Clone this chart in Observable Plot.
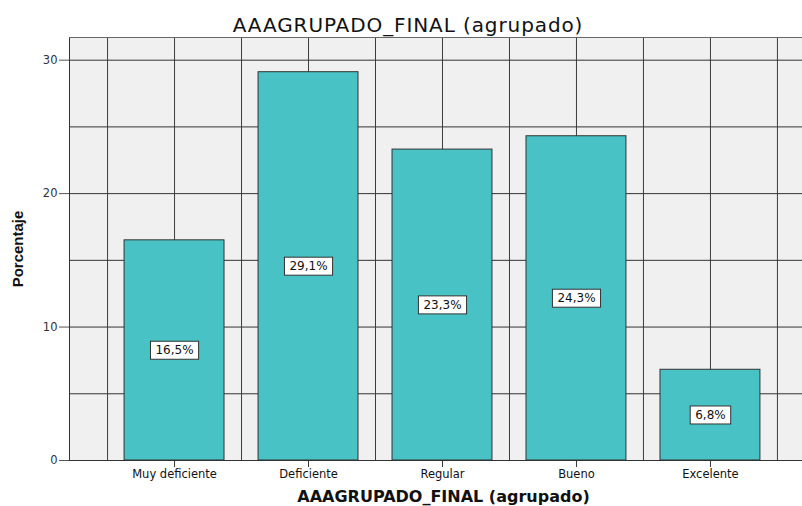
<!DOCTYPE html>
<html><head><meta charset="utf-8">
<script src="https://cdn.jsdelivr.net/npm/d3@7"></script>
<script src="https://cdn.jsdelivr.net/npm/@observablehq/plot@0.6"></script>
<style>
body{margin:0;background:#fff;}
.ctitle text{letter-spacing:0.9px;}
</style>
</head><body>
<div id="chart"></div>
<script>
const categories = ["Muy deficiente", "Deficiente", "Regular", "Bueno", "Excelente"];
const percentages = [16.5, 29.1, 23.3, 24.3, 6.8];
const yTicks = [0, 10, 20, 30];
const yGrid = [0, 5, 10, 15, 20, 25, 30];
const chartTitle = "AAAGRUPADO_FINAL (agrupado)";
const xTitle = "AAAGRUPADO_FINAL (agrupado)";
const yTitle = "Porcentaje";

const data = categories.map((c, i) => ({
  i, category: c, value: percentages[i],
  label: percentages[i].toFixed(1).replace(".", ",") + "%"
}));
const xIdx = categories.map((_, i) => i);
const xGrid = d3.range(-0.5, categories.length, 0.5);
const xDomain = [-0.784, 4.687];
const yMax = 31.7;
const half = 0.373;

const svg = Plot.plot({
  width: 802, height: 506,
  marginLeft: 69, marginRight: 0, marginTop: 37, marginBottom: 46,
  style: {fontFamily: "'DejaVu Sans', sans-serif", fontSize: "11.5px", color: "#222", background: "#fff", overflow: "visible"},
  x: {type: "linear", domain: xDomain},
  y: {domain: [0, yMax]},
  marks: [
    Plot.frame({fill: "#f0f0f0", stroke: "none"}),
    Plot.ruleY(yGrid, {stroke: "#333", strokeWidth: 1}),
    Plot.ruleX(xGrid, {stroke: "#3c3c3c", strokeWidth: 1}),
    Plot.ruleX([xDomain[0]], {stroke: "#333", strokeWidth: 1}),
    Plot.ruleY([yMax], {stroke: "#666", strokeWidth: 1}),
    Plot.rectY(data, {x1: d => d.i - half, x2: d => d.i + half, y: "value", fill: "#48c2c5", stroke: "#333", strokeWidth: 1}),
    Plot.text(data, {x: "i", y: d => d.value / 2, text: "label", className: "vlabel", fontSize: 12, fill: "#111"}),
    Plot.axisY(yTicks, {tickSize: 10, tickPadding: 2, label: null, stroke: "#555", fill: "#333", fontSize: 11.5}),
    Plot.axisX(xIdx, {tickSize: 7, tickPadding: 2, tickFormat: i => categories[i], label: null, stroke: "#333", fill: "#111", fontSize: 11.5}),
    Plot.text([chartTitle], {frameAnchor: "top", lineAnchor: "bottom", dy: -6, dx: -28, fontSize: 20, fill: "#111", className: "ctitle"}),
    Plot.text([xTitle], {frameAnchor: "bottom", lineAnchor: "bottom", dy: 41, dx: 7.5, fontSize: 16, fontWeight: "bold", fill: "#111"}),
    Plot.text([yTitle], {frameAnchor: "left", textAnchor: "middle", lineAnchor: "bottom", rotate: -90, dx: -47, fontSize: 15, fontWeight: "bold", fontFamily: "'Liberation Sans', Arial, sans-serif", fill: "#111"})
  ]
});
document.getElementById("chart").append(svg);

d3.select(svg).selectAll(".vlabel text").each(function() {
  const b = this.getBBox();
  const padX = 5, padY = 2;
  const r = document.createElementNS("http://www.w3.org/2000/svg", "rect");
  r.setAttribute("x", b.x - padX);
  r.setAttribute("y", b.y - padY);
  r.setAttribute("width", b.width + 2 * padX);
  r.setAttribute("height", b.height + 2 * padY);
  r.setAttribute("fill", "#fff");
  r.setAttribute("stroke", "#333");
  r.setAttribute("stroke-width", 1);
  const t = this.getAttribute("transform");
  if (t) r.setAttribute("transform", t);
  this.parentNode.insertBefore(r, this);
});
</script>
</body></html>
